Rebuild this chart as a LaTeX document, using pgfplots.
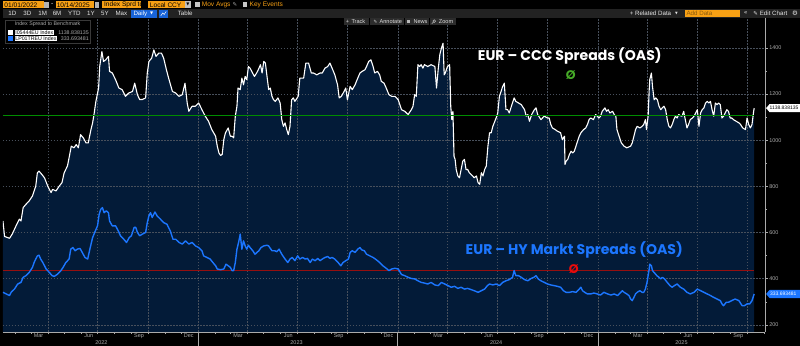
\documentclass[border=0pt]{standalone}
\usepackage{pgfplots}
\usepackage{pgfplotstable}
\pgfplotsset{compat=1.18}
\usetikzlibrary{calc}
\usepackage{fontspec}
\setmainfont{Liberation Sans}
\newfontfamily\titlefont{Poppins}
\newfontfamily\symfont{DejaVu Sans}
\definecolor{navyfill}{RGB}{3,27,56}
\definecolor{bbgorange}{RGB}{247,160,20}
\definecolor{hyblue}{RGB}{28,118,255}
\definecolor{meangreen}{RGB}{0,140,0}
\definecolor{meanred}{RGB}{150,15,15}
\definecolor{ograd}{RGB}{70,170,40}
\definecolor{ored}{RGB}{235,10,10}
\definecolor{gridc}{RGB}{72,80,92}
\definecolor{axc}{RGB}{170,170,170}
\definecolor{barc}{RGB}{34,34,34}
\definecolor{btnc}{RGB}{44,44,44}

\pgfplotstableread{
x y
8 650
11 583
20 575
25 593
32 629
38 658
41 650
45 708
50 722
56 737
62 758
68 801
71 859
74 866
79 852
84 837
90 801
96 773
99 787
105 780
111 801
116 816
120 859
126 888
129 924
133 974
138 967
142 981
146 967
150 1024
155 1010
160 988
164 988
169 1046
172 1075
175 1118
178 1168
183 1226
185 1319
189 1384
192 1341
196 1348
201 1363
203 1298
208 1291
214 1262
220 1226
226 1219
232 1190
238 1204
245 1211
249 1247
254 1197
258 1176
263 1176
269 1183
272 1291
275 1341
280 1355
284 1391
288 1363
293 1377
298 1377
302 1355
307 1305
311 1269
318 1211
324 1204
330 1190
336 1197
341 1247
345 1161
348 1125
354 1147
360 1147
366 1161
372 1132
378 1104
384 1082
390 1046
397 1017
400 974
403 945
406 934
409 938
412 1003
415 1032
420 1053
424 1017
427 1017
430 1010
433 1104
436 1147
438 1226
442 1219
445 1269
448 1240
451 1276
454 1262
457 1319
460 1312
463 1298
468 1276
472 1291
475 1305
479 1327
482 1291
485 1341
488 1334
491 1276
494 1219
497 1226
500 1190
503 1175
506 1168
511 1183
515 1161
518 1089
521 1060
524 1075
527 1046
530 1024
533 1060
536 1175
539 1183
542 1168
548 1190
551 1269
558 1269
562 1334
567 1334
572 1291
576 1291
582 1283
588 1291
592 1291
597 1312
602 1319
606 1334
610 1312
615 1283
620 1240
623 1183
627 1190
632 1211
635 1226
638 1175
643 1233
647 1219
652 1240
657 1269
661 1291
665 1298
670 1305
673 1319
677 1341
681 1348
685 1319
688 1291
693 1298
697 1283
700 1255
705 1247
709 1226
714 1197
719 1190
725 1190
731 1175
737 1132
743 1125
749 1111
755 1132
758 1147
761 1197
764 1190
767 1327
770 1319
773 1327
776 1312
779 1327
785 1319
791 1327
798 1319
801 1226
804 1305
807 1370
810 1399
813 1420
815 1283
817 1291
821 1319
825 1327
827 1147
829 1089
831 1125
833 931
835 917
837 873
840 845
843 837
846 873
849 909
852 917
855 873
858 873
861 859
864 852
867 845
870 837
874 845
877 816
880 809
883 859
886 845
889 873
892 888
895 974
898 1032
901 1032
904 1060
910 1096
913 1118
916 1190
919 1211
922 1233
925 1247
928 1132
931 1132
934 1118
937 1140
943 1183
946 1168
951 1161
956 1154
962 1132
965 1104
968 1111
971 1082
975 1111
980 1132
983 1140
986 1111
992 1089
998 1104
1004 1096
1007 1096
1010 1068
1013 1053
1018 1046
1022 1039
1028 1032
1031 1003
1035 1017
1036 895
1038 909
1041 917
1044 938
1047 952
1050 945
1053 952
1056 974
1059 996
1062 1017
1065 1032
1070 1046
1074 1053
1077 1068
1080 1089
1083 1096
1088 1089
1092 1111
1095 1104
1098 1096
1101 1104
1104 1125
1109 1140
1112 1125
1115 1132
1118 1118
1123 1125
1126 1111
1129 1104
1131 1046
1135 1017
1139 988
1144 974
1149 967
1153 971
1156 974
1159 988
1162 1017
1165 1046
1168 1060
1173 1053
1177 1060
1180 1068
1183 1089
1185 1046
1188 1104
1190 1219
1191 1262
1194 1291
1196 1233
1199 1175
1202 1183
1205 1175
1208 1147
1211 1132
1214 1140
1217 1147
1220 1132
1223 1089
1226 1060
1229 1053
1232 1068
1235 1089
1238 1104
1241 1096
1244 1111
1247 1106
1250 1104
1253 1125
1256 1089
1259 1053
1262 1068
1265 1089
1269 1096
1272 1104
1275 1118
1278 1132
1281 1060
1284 1118
1287 1132
1290 1140
1293 1161
1296 1168
1299 1161
1302 1168
1305 1132
1308 1104
1311 1161
1314 1154
1317 1161
1320 1154
1323 1096
1326 1104
1329 1118
1332 1132
1335 1125
1338 1096
1341 1096
1344 1089
1349 1082
1354 1075
1357 1068
1361 1053
1366 1046
1369 1096
1372 1068
1375 1053
1378 1068
1381 1125
1382 1139
}\ccc

\pgfplotstableread{
x y
8 341
14 334
20 327
23 341
29 355
35 377
41 384
45 406
50 413
56 427
62 449
65 470
68 485
71 499
74 502
77 485
81 470
87 442
93 427
98 413
102 410
108 420
114 435
118 449
123 470
129 485
132 528
136 535
140 521
144 528
149 531
153 514
158 492
163 485
167 528
172 578
177 607
181 629
184 679
187 701
190 708
193 686
197 694
201 686
203 650
208 629
214 629
219 607
223 586
229 571
234 557
239 578
243 586
248 622
251 622
254 600
258 586
263 593
269 600
272 643
275 672
278 686
281 665
286 689
290 672
296 658
302 643
308 636
314 607
319 571
324 571
330 557
336 550
342 564
348 550
354 557
360 542
366 535
372 521
375 499
381 492
387 485
392 470
397 456
400 442
406 439
412 442
416 463
420 456
424 449
427 435
430 435
433 470
436 528
439 557
442 593
445 528
448 564
451 542
454 528
457 545
460 535
465 521
469 506
476 521
480 535
485 542
491 545
494 542
500 521
505 521
509 517
513 528
518 506
524 485
529 470
533 485
537 492
542 478
547 499
551 485
556 492
561 485
565 488
570 470
574 485
579 478
584 488
588 478
592 485
597 492
602 496
606 488
610 492
615 485
621 470
626 456
630 470
635 478
640 485
643 514
647 521
652 514
657 528
661 535
664 525
669 521
673 506
679 499
685 492
691 482
697 470
703 456
709 445
714 435
719 442
725 445
731 442
737 418
743 413
749 406
755 401
761 399
767 391
773 384
779 381
785 377
791 384
798 373
804 370
810 384
816 377
822 370
828 363
834 367
840 358
846 363
852 355
858 358
864 353
870 348
877 341
883 348
889 355
894 370
898 377
904 373
910 377
916 370
922 384
928 391
934 396
940 406
943 435
946 413
951 413
956 406
962 396
968 391
974 401
979 406
983 413
987 399
992 391
998 384
1004 377
1010 373
1016 370
1022 367
1028 363
1033 348
1038 341
1044 341
1050 344
1056 341
1062 355
1065 363
1068 348
1072 341
1077 334
1083 334
1089 338
1095 334
1101 329
1107 341
1114 334
1120 329
1126 334
1132 327
1138 341
1141 348
1144 341
1149 334
1153 327
1156 312
1159 305
1162 319
1165 334
1168 341
1173 348
1177 341
1180 341
1183 355
1186 384
1190 442
1191 463
1194 456
1196 435
1199 427
1204 413
1208 406
1211 399
1214 406
1218 399
1223 384
1228 370
1232 363
1236 370
1241 377
1247 363
1253 355
1259 341
1265 334
1272 341
1278 355
1284 348
1290 341
1296 334
1302 327
1308 319
1314 312
1320 305
1323 291
1326 283
1331 298
1335 298
1341 305
1347 312
1354 305
1360 283
1364 283
1369 291
1374 291
1378 305
1381 327
1382 334
}\hy

\pgfplotstableread{
x y
7.7 1108
1382 1108
}\cccmean

\pgfplotstableread{
x y
7.7 437
1382 437
}\hymean

\begin{document}
\pagecolor{black}
\begin{tikzpicture}[x=1pt,y=1pt]
\begin{axis}[
  set layers,
  at={(0pt,14pt)}, anchor=south west,
  width=765pt, height=315pt, scale only axis,
  xmin=7.7, xmax=1402, ymin=169.8, ymax=1529.5,
  axis x line*=bottom, axis y line*=right,
  axis line style={draw=axc, line width=0.6pt},
  tick align=outside,
  major tick length=2.5pt, minor tick length=1.8pt,
  tick style={draw=axc, line width=0.5pt},
  ytick={200,400,600,800,1000,1200,1400},
  minor ytick={300,500,700,900,1100,1300},
  yticklabel style={font=\fontsize{5.5}{6}\selectfont, text=axc, inner sep=0pt, xshift=1.5pt},
  /pgf/number format/assume math mode=true,
  /pgf/number format/1000 sep={},
  xtick={90,181,273,365,455,546,638,730,821,912,1004,1096,1186,1277,1369},
  xticklabels={},
  minor xtick={31,59,120,151,212,243,304,334,396,424,485,516,577,608,669,699,761,790,851,882,943,974,1035,1065,1127,1155,1216,1247,1308,1339,1400},
  extra x ticks={73,165,257,348,438,530,622,713,804,896,988,1079,1169,1261,1353},
  extra x tick labels={Mar,Jun,Sep,Dec,Mar,Jun,Sep,Dec,Mar,Jun,Sep,Dec,Mar,Jun,Sep},
  extra x tick style={grid=none, major tick length=0pt, tick style={draw=none}},
  xticklabel style={font=\fontsize{5.5}{6}\selectfont, text=axc, inner sep=0pt, yshift=-1.5pt},
  grid style={draw=gridc, dash pattern=on 1.5pt off 1.5pt, line width=0.4pt},
  xmajorgrids, ymajorgrids,
]
\addplot[on layer=axis background, fill=navyfill, draw=none] table {\ccc} \closedcycle;
\addplot[on layer=main, draw=meanred, line width=0.5pt] table {\hymean};
\addplot[on layer=main, draw=white, line width=1.1pt, line join=round] table {\ccc};
\addplot[on layer=main, draw=meangreen, line width=0.9pt] table {\cccmean};
\addplot[on layer=main, draw=hyblue, line width=1.4pt, line join=round] table {\hy};
\coordinate (j23) at (axis cs:365,169.8);
\coordinate (j24) at (axis cs:730,169.8);
\coordinate (j25) at (axis cs:1096,169.8);
\coordinate (yl22) at (axis cs:188,169.8);
\coordinate (yl23) at (axis cs:545,169.8);
\coordinate (yl24) at (axis cs:910,169.8);
\coordinate (yl25) at (axis cs:1249,169.8);
\end{axis}
% year separators and labels
\foreach \c in {j23,j24,j25} \draw[axc, line width=0.5pt] (\c) -- ++(0,-14);
\foreach \c/\t in {yl22/2022,yl23/2023,yl24/2024,yl25/2025}
  \node[font=\fontsize{5.5}{6}\selectfont, text=axc, inner sep=0pt] at ($(\c)+(0,-10.5)$) {\t};

% titles
\node[font=\titlefont\bfseries\fontsize{14.1}{15}\selectfont, text=white, inner sep=0pt] at (569,290.5) {EUR – CCC Spreads (OAS)};
\node[font=\titlefont\bfseries\fontsize{12.5}{13}\selectfont, text=ograd, inner sep=0pt] at (570,272) {Ø};
\node[font=\titlefont\bfseries\fontsize{14.1}{15}\selectfont, text=hyblue, inner sep=0pt] at (573.5,96) {EUR – HY Markt Spreads (OAS)};
\node[font=\titlefont\bfseries\fontsize{12.5}{13}\selectfont, text=ored, inner sep=0pt] at (573,77) {Ø};

% value tags at right
\fill[white] (766,238.5) -- (769.5,242.6) -- (800,242.6) -- (800,234.4) -- (769.5,234.4) -- cycle;
\node[font=\fontsize{5}{5}\selectfont, text=black, inner sep=0pt, anchor=west] at (769.3,238.5) {1138.838135};
\fill[hyblue] (766,52) -- (769.5,56.1) -- (800,56.1) -- (800,47.9) -- (769.5,47.9) -- cycle;
\node[font=\fontsize{5}{5}\selectfont, text=white, inner sep=0pt, anchor=west] at (769.8,52) {333.693481};

% legend
\draw[draw=gray!45!black, fill=black, line width=0.5pt] (2,326.3) rectangle (88,304);
\node[font=\fontsize{5.3}{6}\selectfont, text=axc, inner sep=0pt] at (45,322.3) {Index Spread to Benchmark};
\fill[white] (5,311.8) rectangle (9.8,316.4);
\node[font=\fontsize{5.3}{6}\selectfont, fill=white, text=black, inner sep=0.6pt, anchor=west] at (11.8,314) {I05444EU Index};
\node[font=\fontsize{5.3}{6}\selectfont, text=axc, inner sep=0pt, anchor=east] at (86.5,314) {1138.838135};
\fill[hyblue] (5,305.8) rectangle (9.8,310.4);
\node[font=\fontsize{5.3}{6}\selectfont, fill=white, text=black, inner sep=0.6pt, anchor=west] at (11.8,308) {LP01TREU Index};
\node[font=\fontsize{5.3}{6}\selectfont, text=axc, inner sep=0pt, anchor=east] at (86.5,308) {333.693481};

% toolbar row 1
\fill[bbgorange] (0,338.5) rectangle (41,346.2);
\node[font=\fontsize{6.6}{7}\selectfont, text=black, inner sep=0pt, anchor=west] at (1.5,342.3) {01/01/2022};
\fill[gray!60] (41.5,339.3) rectangle (46,345.3);
\node[font=\fontsize{6.6}{7}\selectfont, text=white, inner sep=0pt] at (49.5,342.3) {-};
\fill[bbgorange] (53,338.5) rectangle (92,346.2);
\node[font=\fontsize{6.6}{7}\selectfont, text=black, inner sep=0pt, anchor=west] at (54,342.3) {10/14/2025};
\fill[gray!60] (92.5,339.3) rectangle (97,345.3);
\fill[bbgorange] (100,338.5) rectangle (139,346.2);
\node[font=\fontsize{6.6}{7}\selectfont, text=black, inner sep=0pt, anchor=west] at (101.5,342.3) {Index Sprd to};
\fill[bbgorange] (146,338.5) rectangle (183,346.2);
\node[font=\fontsize{6.6}{7}\selectfont, text=black, inner sep=0pt, anchor=west] at (147.5,342.3) {Local CCY};
\fill[gray!50] (183.3,338.5) rectangle (188.5,346.2);
\node[font=\symfont\fontsize{4}{4}\selectfont, text=black, inner sep=0pt] at (185.9,342.3) {▼};
\fill[gray!45] (193,340) rectangle (197.5,344.5);
\node[font=\fontsize{6.6}{7}\selectfont, text=bbgorange, inner sep=0pt, anchor=west] at (199.5,342.3) {Mov Avgs};
\node[font=\symfont\fontsize{5.5}{6}\selectfont, text=gray!70, inner sep=0pt] at (233,342.3) {✎};
\fill[gray!45] (241,340) rectangle (245.5,344.5);
\node[font=\fontsize{6.6}{7}\selectfont, text=bbgorange, inner sep=0pt, anchor=west] at (247.5,342.3) {Key Events};

% toolbar row 2
\fill[barc] (0,329) rectangle (800,337.6);
\foreach \xx/\t in {5.5/1D,20.5/3D,35.5/1M,50/6M,65.5/YTD,84.5/1Y,98.5/5Y,113/Max,175.5/Table}
  \node[font=\fontsize{6.2}{7}\selectfont, text=gray!20, inner sep=0pt, anchor=west] at (\xx,333.3) {\t};
\fill[hyblue!85!black] (129,329.4) rectangle (154.5,337.2);
\node[font=\fontsize{6.2}{7}\selectfont, text=white, inner sep=0pt, anchor=west] at (131,333.3) {Daily};
\node[font=\symfont\fontsize{4}{4}\selectfont, text=white, inner sep=0pt] at (149.5,333.3) {▼};
\fill[hyblue!85!black] (157,329.4) rectangle (165.5,337.2);
\draw[white, line width=0.5pt] (158.5,331) -- (160.5,334) -- (162,332.5) -- (164,335.5);
\node[font=\fontsize{6.2}{7}\selectfont, text=gray!20, inner sep=0pt, anchor=west] at (629,333.3) {+ Related Data};
\node[font=\symfont\fontsize{3.5}{4}\selectfont, text=gray!20, inner sep=0pt] at (676,333.3) {▼};
\fill[bbgorange] (684.5,329.6) rectangle (740,337);
\node[font=\fontsize{6.2}{7}\selectfont, text=bbgorange!55!black, inner sep=0pt, anchor=west] at (686,333.3) {Add Data};
\node[font=\symfont\fontsize{6}{7}\selectfont, text=gray!20, inner sep=0pt] at (745.5,333.5) {«};
\node[font=\symfont\fontsize{5.5}{6}\selectfont, text=gray!20, inner sep=0pt] at (755.5,333.3) {✎};
\node[font=\fontsize{6.2}{7}\selectfont, text=gray!20, inner sep=0pt, anchor=west] at (759.5,333.3) {Edit Chart};
\node[font=\symfont\fontsize{6.5}{7}\selectfont, text=gray!20, inner sep=0pt] at (795,333.3) {⚙};

% row 3 buttons
\fill[btnc] (342,322) rectangle (455,328.6);
\draw[black, line width=0.6pt] (367.5,322) -- (367.5,328.6) (403,322) -- (403,328.6) (428,322) -- (428,328.6);
\node[font=\fontsize{5.6}{6}\selectfont, text=gray!25, inner sep=0pt, anchor=west] at (344,325.3) {+ \,Track};
\node[font=\symfont\fontsize{4.5}{5}\selectfont, text=gray!25, inner sep=0pt] at (374,325.3) {✎};
\node[font=\fontsize{5.6}{6}\selectfont, text=gray!25, inner sep=0pt, anchor=west] at (378,325.3) {Annotate};
\fill[gray!55] (405.5,323.6) rectangle (409,327);
\node[font=\fontsize{5.6}{6}\selectfont, text=gray!25, inner sep=0pt, anchor=west] at (412,325.3) {News};
\draw[gray!55, line width=0.5pt] (433,325.8) circle (1.4) (432,324.8) -- (430.6,323.2);
\node[font=\fontsize{5.6}{6}\selectfont, text=gray!25, inner sep=0pt, anchor=west] at (437.5,325.3) {Zoom};
\pgfresetboundingbox
\path[use as bounding box] (0,0) rectangle (800,347);
\end{tikzpicture}
\end{document}
